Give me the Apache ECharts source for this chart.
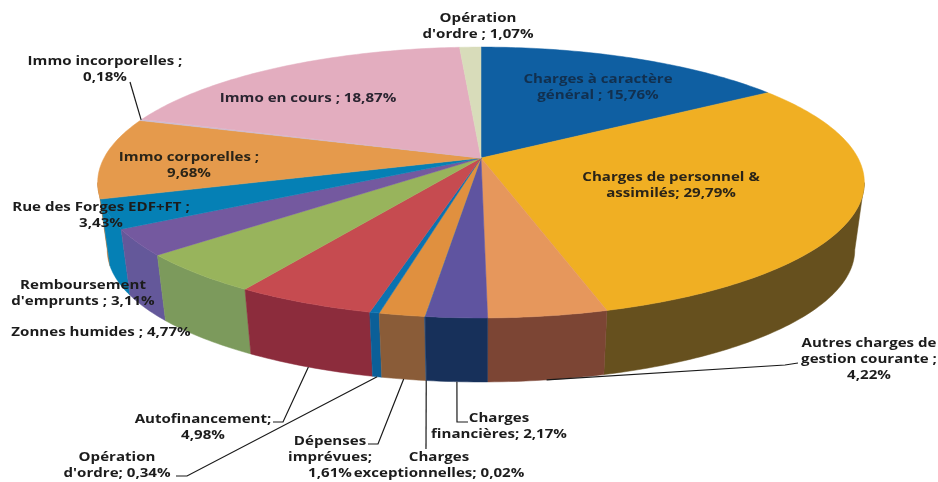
<!DOCTYPE html>
<html>

<head>
    <meta charset="utf-8">
    <title>Dépenses</title>
    <script src="https://cdn.jsdelivr.net/npm/echarts@6/dist/echarts.min.js"></script>
    <style>
        html, body { margin: 0; background: #fff; }
    </style>
</head>

<body>
    <div id="main" style="width: 938px;height:482px;"></div>
</body>
<script type="text/javascript">
    // slices, clockwise from the top
    var names = ['Charges à caractère général', 'Charges de personnel & assimilés', 'Autres charges de gestion courante',
        'Charges financières', 'Charges exceptionnelles', 'Dépenses imprévues', "Opération d'ordre", 'Autofinancement',
        'Zonnes humides', "Remboursement d'emprunts", 'Rue des Forges EDF+FT', 'Immo corporelles', 'Immo incorporelles',
        'Immo en cours', "Opération d'ordre"];
    var values = [15.76, 29.79, 4.22, 2.17, 0.02, 1.61, 0.34, 4.98, 4.77, 3.11, 3.43, 9.68, 0.18, 18.87, 1.07];
    var labels = ['Charges à caractère\ngénéral ; 15,76%', 'Charges de personnel &\nassimilés; 29,79%',
        'Autres charges de\ngestion courante ;\n4,22%', 'Charges\nfinancières; 2,17%', 'Charges\nexceptionnelles; 0,02%',
        'Dépenses\nimprévues;\n1,61%', "Opération\nd'ordre; 0,34%", 'Autofinancement;\n4,98%', 'Zonnes humides ; 4,77%',
        "Remboursement\nd'emprunts ; 3,11%", 'Rue des Forges EDF+FT ;\n3,43%', 'Immo corporelles ;\n9,68%',
        'Immo incorporelles ;\n0,18%', 'Immo en cours ; 18,87%', "Opération\nd'ordre ; 1,07%"];

    var topColors = ['#0f5fa2', '#f0af23', '#e6975c', '#5f54a0', '#3f6fa8', '#e0903f', '#0b72b0', '#c64b50',
        '#98b45c', '#74599f', '#0580b5', '#e59a4c', '#c9bcd6', '#e3adbf', '#d8dcba'];
    var sideColors = ['#0c4c82', '#66501e', '#7c4534', '#17305a', '#2f5480', '#8a5c38', '#0b5f98', '#8c2c3c',
        '#7c9a5c', '#64589a', '#0580b5', '#b87a3c', '#a89ab0', '#b58a98', '#aeb296'];
    var textColors = ['#12304f', '#2a2418', '#1c1c1c', '#1c1c1c', '#1c1c1c', '#1c1c1c', '#1c1c1c', '#1c1c1c',
        '#1c1c1c', '#1c1c1c', '#1c1c1c', '#2a2418', '#1c1c1c', '#2a2430', '#1c1c1c'];

    // label centre x, first line centre y
    var labelPos = [[598, 79], [671, 177], [869, 343], [499, 418], [439, 457], [330, 441], [117, 457], [203, 419],
        [101, 332], [83, 285], [101, 207], [189, 157], [105, 61], [308, 98], [478, 18]];
    // leader lines: the elbow points, the last point is taken from the slice itself
    var leaders = {
        2: [[798, 363], [785, 365]],
        3: [[468, 422], [457, 422]],
        4: [[426, 449]],
        5: [[368, 444], [378, 444]],
        6: [[176, 476], [187, 476]],
        7: [[273, 422], [283, 422]],
        12: [[130, 82]]
    };

    // pie geometry, a flat disc seen in perspective
    var cx = 481, cy = 158, rx = 377, ry = 131, persp = 0.181;
    var depth = 68, bottomScale = 0.975;
    var sideFrom = 27.9, sideTo = 72.1;
    var lineHeight = 16;
    var font = 'bold 13px "Open Sans"';
    var textStretch = 1.16;

    var starts = [];
    var sum = 0;
    values.forEach(function(v) {
        starts.push(sum);
        sum += v;
    });
    var total = sum;

    function project(pct, bottom) {
        var a = pct / total * Math.PI * 2;
        var u = Math.sin(a), v = -Math.cos(a);
        var s = bottom ? bottomScale : 1;
        var w = 1 - persp * v;
        return [cx + s * rx * u / w, cy + (bottom ? depth : 0) + s * ry * v / w];
    }

    function arc(from, to, bottom) {
        var pts = [];
        var n = Math.max(2, Math.ceil((to - from) * 4));
        for (var i = 0; i <= n; i++) {
            pts.push(project(from + (to - from) * i / n, bottom));
        }
        return pts;
    }

    function renderSide(params) {
        var i = params.dataIndex;
        var from = Math.max(starts[i], sideFrom), to = Math.min(starts[i] + values[i], sideTo);
        if (to <= from) {
            return null;
        }
        var pts = arc(from, to, false).concat(arc(from, to, true).reverse());
        var mid = (from + to) / 2;
        return {
            type: 'polygon',
            z2: Math.round(100 - Math.abs(mid - 50)),
            shape: { points: pts },
            style: { fill: sideColors[i], stroke: sideColors[i], lineWidth: 0.5 }
        };
    }

    function renderTop(params) {
        var i = params.dataIndex;
        var pts = [[cx, cy]].concat(arc(starts[i], starts[i] + values[i], false));
        return {
            type: 'polygon',
            z2: 150,
            shape: { points: pts },
            style: { fill: topColors[i], stroke: topColors[i], lineWidth: 0.5 }
        };
    }

    function renderLabel(params) {
        var i = params.dataIndex;
        var children = [{
            type: 'text',
            z2: 300,
            x: labelPos[i][0],
            y: labelPos[i][1] - lineHeight / 2,
            scaleX: textStretch,
            style: {
                text: labels[i],
                x: 0,
                y: 0,
                align: 'center',
                verticalAlign: 'top',
                font: font,
                lineHeight: lineHeight,
                fill: textColors[i]
            }
        }];
        if (leaders[i]) {
            var mid = starts[i] + values[i] / 2;
            var end = project(mid, mid > 25 && mid < 75);
            children.push({
                type: 'polyline',
                z2: 250,
                shape: { points: leaders[i].concat([end]) },
                style: { fill: null, stroke: '#1a1a1a', lineWidth: 1.2 }
            });
        }
        return { type: 'group', children: children };
    }

    var chart = echarts.init(document.getElementById('main'));
    chart.setOption({
        backgroundColor: '#fff',
        animation: false,
        series: [{
            type: 'custom',
            coordinateSystem: 'none',
            silent: true,
            renderItem: renderSide,
            data: values
        }, {
            type: 'custom',
            coordinateSystem: 'none',
            silent: true,
            renderItem: renderTop,
            data: values
        }, {
            type: 'custom',
            coordinateSystem: 'none',
            silent: true,
            renderItem: renderLabel,
            data: values
        }]
    });
</script>

</html>
